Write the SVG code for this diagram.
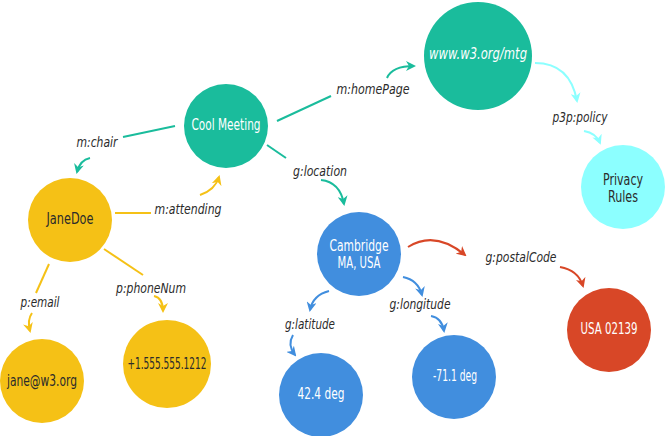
<svg xmlns="http://www.w3.org/2000/svg" width="665" height="436" viewBox="0 0 665 436">
<style>
.n{font-family:"DejaVu Sans Condensed","Liberation Sans",sans-serif;font-size:15px;text-anchor:middle;dominant-baseline:central}
.w{fill:#ffffff}.d{fill:#2b2b2b}
.l{font-family:"DejaVu Sans Condensed","Liberation Sans",sans-serif;font-size:14px;font-style:italic;fill:#2b2b2b;text-anchor:middle;dominant-baseline:central}
.e{fill:none;stroke-width:2}
.t{stroke:#1abc9c}.y{stroke:#f5c116}.c{stroke:#8cffff}.b{stroke:#418ede}.r{stroke:#d84727}
</style>
<defs>
<marker id="at" viewBox="0 0 10 10" refX="8" refY="5" markerWidth="10" markerHeight="10" markerUnits="userSpaceOnUse" orient="auto"><path d="M0,0 L10,5 L0,10 L3,5 z" fill="#1abc9c"/></marker>
<marker id="ay" viewBox="0 0 10 10" refX="8" refY="5" markerWidth="10" markerHeight="10" markerUnits="userSpaceOnUse" orient="auto"><path d="M0,0 L10,5 L0,10 L3,5 z" fill="#f5c116"/></marker>
<marker id="ac" viewBox="0 0 10 10" refX="8" refY="5" markerWidth="10" markerHeight="10" markerUnits="userSpaceOnUse" orient="auto"><path d="M0,0 L10,5 L0,10 L3,5 z" fill="#8cffff"/></marker>
<marker id="ab" viewBox="0 0 10 10" refX="8" refY="5" markerWidth="10" markerHeight="10" markerUnits="userSpaceOnUse" orient="auto"><path d="M0,0 L10,5 L0,10 L3,5 z" fill="#418ede"/></marker>
<marker id="ar" viewBox="0 0 10 10" refX="8" refY="5" markerWidth="10" markerHeight="10" markerUnits="userSpaceOnUse" orient="auto"><path d="M0,0 L10,5 L0,10 L3,5 z" fill="#d84727"/></marker>
</defs>
<g id="connectors">
<path class="e t" d="M175,126 L123,137"/>
<path class="e t" d="M90,158 Q80,160 77,172" marker-end="url(#at)"/>
<path class="e y" d="M115,213 L151,213"/>
<path class="e y" d="M200,195 Q215,190 219,177" marker-end="url(#ay)"/>
<path class="e t" d="M277,121 L331,96"/>
<path class="e t" d="M387,78 Q392,66 414,66" marker-end="url(#at)"/>
<path class="e c" d="M535,63 Q570,63 577,101" marker-end="url(#ac)"/>
<path class="e c" d="M584,131 Q596,133 600,143" marker-end="url(#ac)"/>
<path class="e t" d="M267,145 L286,158"/>
<path class="e t" d="M321,180 Q340,182 344,204" marker-end="url(#at)"/>
<path class="e r" d="M408,247 Q435,230 465,255" marker-end="url(#ar)"/>
<path class="e r" d="M560,267 Q578,270 583,286" marker-end="url(#ar)"/>
<path class="e b" d="M403,277 Q418,280 422,295" marker-end="url(#ab)"/>
<path class="e b" d="M431,316 Q442,318 444,331" marker-end="url(#ab)"/>
<path class="e b" d="M329,291 Q313,295 310,310" marker-end="url(#ab)"/>
<path class="e b" d="M293,335 Q287,345 295,355" marker-end="url(#ab)"/>
<path class="e y" d="M49,264 L36,293"/>
<path class="e y" d="M32,313 Q27,320 30,331" marker-end="url(#ay)"/>
<path class="e y" d="M104,249 L143,275"/>
<path class="e y" d="M154,296 Q163,298 163,311" marker-end="url(#ay)"/>
<text class="l" x="97" y="142" textLength="41" lengthAdjust="spacingAndGlyphs">m:chair</text>
<text class="l" x="188" y="209" textLength="67" lengthAdjust="spacingAndGlyphs">m:attending</text>
<text class="l" x="373" y="89" textLength="73" lengthAdjust="spacingAndGlyphs">m:homePage</text>
<text class="l" x="580" y="117" textLength="55" lengthAdjust="spacingAndGlyphs">p3p:policy</text>
<text class="l" x="320" y="171" textLength="54" lengthAdjust="spacingAndGlyphs">g:location</text>
<text class="l" x="521" y="257" textLength="71" lengthAdjust="spacingAndGlyphs">g:postalCode</text>
<text class="l" x="420" y="304" textLength="61" lengthAdjust="spacingAndGlyphs">g:longitude</text>
<text class="l" x="310" y="324" textLength="50" lengthAdjust="spacingAndGlyphs">g:latitude</text>
<text class="l" x="40" y="302" textLength="39" lengthAdjust="spacingAndGlyphs">p:email</text>
<text class="l" x="151" y="288" textLength="70" lengthAdjust="spacingAndGlyphs">p:phoneNum</text>
</g>
<g id="cool-meeting"><circle cx="226" cy="126" r="42" fill="#1abc9c"/><text class="n w" x="226" y="125" textLength="69" lengthAdjust="spacingAndGlyphs">Cool Meeting</text></g>
<g id="janedoe"><circle cx="70" cy="220" r="42" fill="#f5c116"/><text class="n d" x="70" y="219" textLength="47" lengthAdjust="spacingAndGlyphs">JaneDoe</text></g>
<g id="w3-mtg"><circle cx="478" cy="56" r="54" fill="#1abc9c"/><text class="n w" x="478" y="54" font-style="italic" textLength="98" lengthAdjust="spacingAndGlyphs">www.w3.org/mtg</text></g>
<g id="privacy-rules"><circle cx="623" cy="187" r="42" fill="#8cffff"/><text class="n d" x="623" y="180" textLength="40" lengthAdjust="spacingAndGlyphs">Privacy</text><text class="n d" x="623" y="197" textLength="30" lengthAdjust="spacingAndGlyphs">Rules</text></g>
<g id="cambridge"><circle cx="359" cy="254" r="42" fill="#418ede"/><text class="n w" x="359" y="246" textLength="59" lengthAdjust="spacingAndGlyphs">Cambridge</text><text class="n w" x="359" y="263" textLength="43" lengthAdjust="spacingAndGlyphs">MA, USA</text></g>
<g id="latitude-val"><circle cx="321" cy="395" r="42" fill="#418ede"/><text class="n w" x="321" y="394" textLength="47" lengthAdjust="spacingAndGlyphs">42.4 deg</text></g>
<g id="longitude-val"><circle cx="454" cy="377" r="42" fill="#418ede"/><text class="n w" x="455" y="376" textLength="44" lengthAdjust="spacingAndGlyphs">-71.1 deg</text></g>
<g id="postal-val"><circle cx="609" cy="330" r="42" fill="#d84727"/><text class="n w" x="609" y="329" textLength="57" lengthAdjust="spacingAndGlyphs">USA 02139</text></g>
<g id="email-val"><circle cx="42" cy="381" r="42" fill="#f5c116"/><text class="n d" x="42" y="381" textLength="70" lengthAdjust="spacingAndGlyphs">jane@w3.org</text></g>
<g id="phone-val"><circle cx="167" cy="364" r="44" fill="#f5c116"/><text class="n d" x="167" y="364" textLength="79" lengthAdjust="spacingAndGlyphs">+1.555.555.1212</text></g>
</svg>
